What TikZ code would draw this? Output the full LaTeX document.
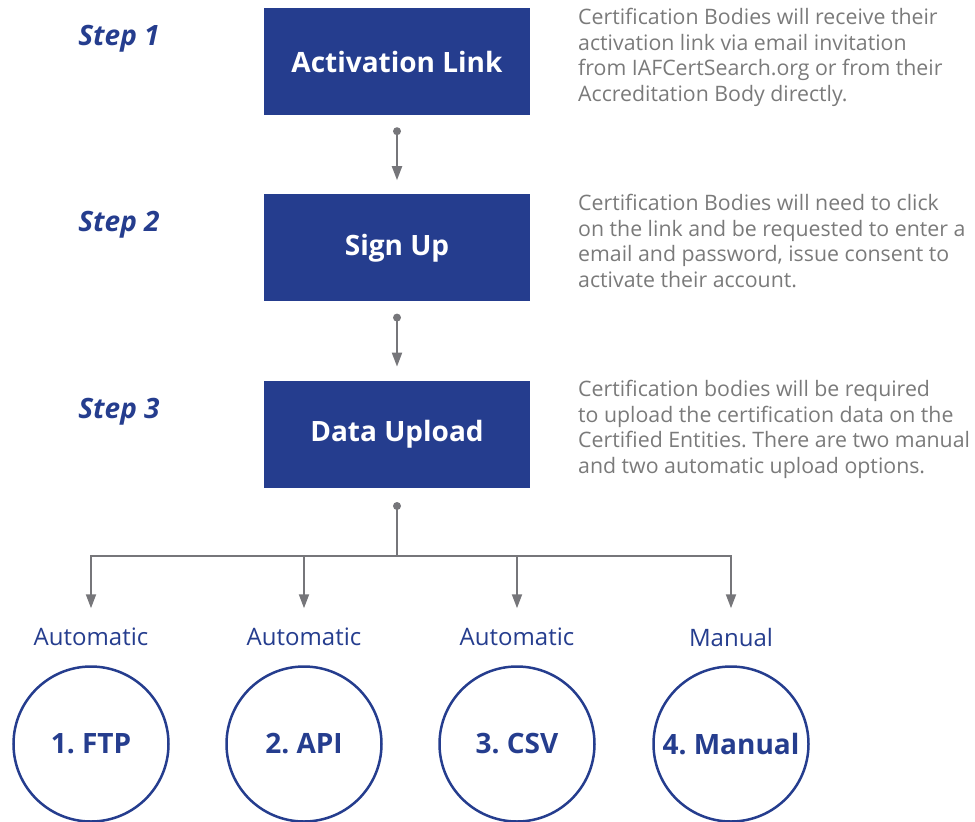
\documentclass[tikz,border=0pt]{standalone}
\usepackage{fontspec}
\setmainfont{Open Sans}
\frenchspacing
\usetikzlibrary{calc}
\usetikzlibrary{positioning}
\usetikzlibrary{arrows.meta}
\definecolor{iafblue}{RGB}{37,61,142}
\definecolor{arrowgray}{RGB}{118,118,122}
\definecolor{textgray}{RGB}{122,122,122}
\tikzstyle{box} = [rectangle, fill=iafblue, text=white, minimum width=266pt, minimum height=107pt, font=\fontsize{28}{32}\selectfont\bfseries]
\tikzstyle{arrow} = [line width=2pt, draw=arrowgray, -{Triangle[length=14pt,width=10pt]}]
\tikzstyle{desc} = [anchor=north west, inner sep=0pt, align=left, text=textgray, font=\fontsize{21.3}{25.6}\selectfont]
\tikzstyle{steplabel} = [text=iafblue, font=\fontsize{28}{32}\selectfont\bfseries\itshape]
\tikzstyle{option} = [circle, draw=iafblue, line width=2.5pt, minimum size=155pt, text=iafblue, font=\fontsize{28}{32}\selectfont\bfseries]
\tikzstyle{kind} = [text=iafblue, font=\fontsize{24}{28}\selectfont]

\begin{document}
\begin{tikzpicture}[x=1pt, y=1pt]
\useasboundingbox (0,0) rectangle (975,-822);

	\node (link) [box] at (397,-61.5) {Activation Link};
\node (signup) [box, below=79pt of link] {Sign Up};
\node (upload) [box, below=79pt of signup] {Data Upload};

\node (step1) [steplabel] at (119,-39) {Step 1};
\node (step2) [steplabel] at (119,-225) {Step 2};
\node (step3) [steplabel] at (119,-412) {Step 3};

\node (desc1) [desc] at (578,-8) {Certification Bodies will receive their\\activation link via email invitation\\from IAFCertSearch.org or from their\\Accreditation Body directly.};
\node (desc2) [desc] at (578,-194) {Certification Bodies will need to click\\on the link and be requested to enter a\\email and password, issue consent to\\activate their account.};
\node (desc3) [desc] at (578,-380) {Certification bodies will be required\\to upload the certification data on the\\Certified Entities. There are two manual\\and two automatic upload options.};

\coordinate (dot1) at ($(link.south)+(0,-16)$);
\coordinate (dot2) at ($(signup.south)+(0,-16)$);
\coordinate (dot3) at ($(upload.south)+(0,-18)$);
\coordinate (fork) at ($(dot3)+(0,-50)$);

\fill [arrowgray] (dot1) circle (4pt);
\fill [arrowgray] (dot2) circle (4pt);
\fill [arrowgray] (dot3) circle (4pt);

\draw [arrow, shorten >=14pt] (dot1) -- (signup.north);
\draw [arrow, shorten >=14pt] (dot2) -- (upload.north);
\draw [line width=2pt, draw=arrowgray] (dot3) -- (fork);

\node (ftp) [option] at (91,-744) {1. FTP};
\node (api) [option] at (304,-744) {2. API};
\node (csv) [option] at (517,-744) {3. CSV};
\node (manual) [option] at (731,-744) {4. Manual};

\node (kind1) [kind] at (91,-637) {Automatic};
\node (kind2) [kind] at (304,-637) {Automatic};
\node (kind3) [kind] at (517,-637) {Automatic};
\node (kind4) [kind] at (731,-637) {Manual};

\foreach \opt in {ftp, api, csv, manual}
	\draw [arrow] (fork) -| ($(\opt.north)+(0,57)$);
\end{tikzpicture}
\end{document}
